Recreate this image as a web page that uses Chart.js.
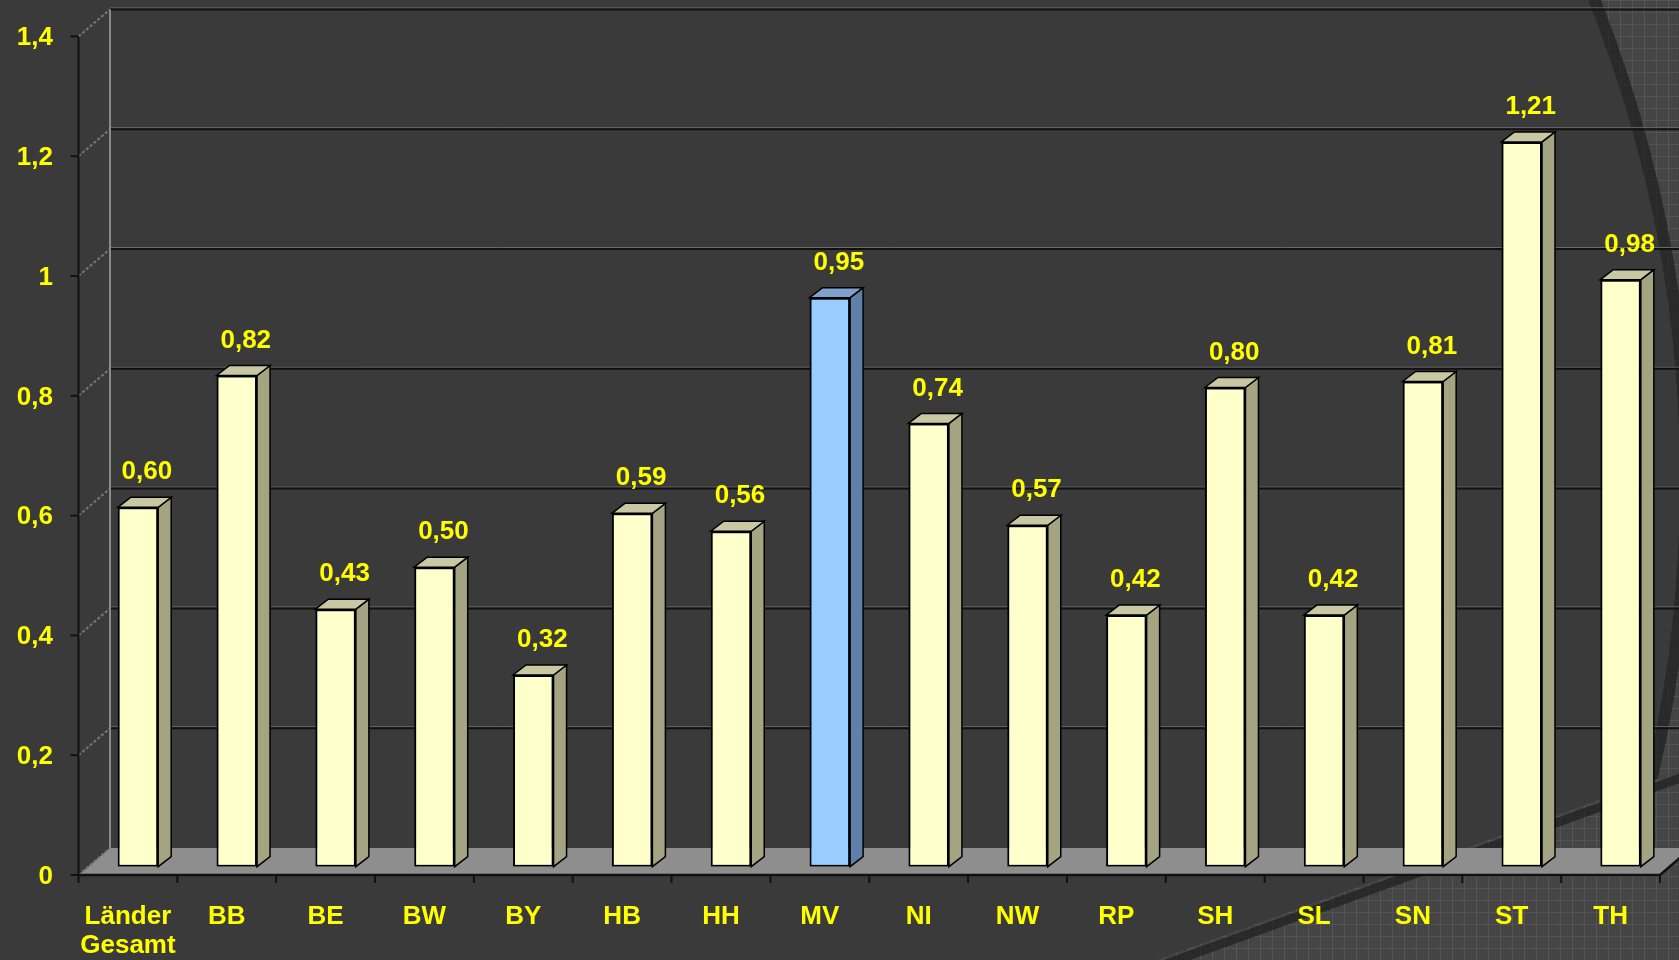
<!DOCTYPE html>
<html>
<head>
<meta charset="utf-8">
<title>Länder</title>
<script src="https://cdn.jsdelivr.net/npm/chart.js@4.4.0/dist/chart.umd.min.js"></script>
<style>
    html, body { margin: 0; padding: 0; background: #3a3a3a; }
    #chart { display: block; }
</style>
</head>
<body>
<canvas id="chart" width="1679" height="960"></canvas>
<script>
// Chart data
const laender = [['Länder', 'Gesamt'], 'BB', 'BE', 'BW', 'BY', 'HB', 'HH', 'MV', 'NI', 'NW', 'RP', 'SH', 'SL', 'SN', 'ST', 'TH'];
const werte = [0.60, 0.82, 0.43, 0.50, 0.32, 0.59, 0.56, 0.95, 0.74, 0.57, 0.42, 0.80, 0.42, 0.81, 1.21, 0.98];
const yTicks = [0, 0.2, 0.4, 0.6, 0.8, 1, 1.2, 1.4];
const highlight = 'MV';

const BG = '#3a3a3a';
const YELLOW = '#ffff00';
const FONT = '"Liberation Sans", Arial, sans-serif';

// 3D offsets relative to the plane the bar fronts sit in
const WALL = { dx: 21.5, dy: -18.7 };   // back wall
const FRONT = { dx: -10, dy: 8.3 };     // front edge of floor / axes
const DEPTH = { dx: 13, dy: -10 };      // bar depth

const isHighlight = i => laender[i] === highlight;
const colors = {
    front: i => isHighlight(i) ? '#99ccff' : '#ffffcc',
    side: i => isHighlight(i) ? '#5f80a8' : '#a4a482',
    top: i => isHighlight(i) ? '#7fa2cc' : '#c8c8a2'
};

const fmt = v => (Math.round(v * 10) / 10).toString().replace('.', ',');

// Fine grid texture for the decorative background shapes
function makeTexture(ctx) {
    const c = document.createElement('canvas');
    c.width = 12; c.height = 12;
    const g = c.getContext('2d');
    g.fillStyle = '#474747';
    g.fillRect(0, 0, 12, 12);
    g.fillStyle = '#3d3d3d';
    for (let i = 0; i < 12; i += 2) {
        for (let j = (i / 2) % 2; j < 12; j += 2) g.fillRect(i, j, 1, 1);
    }
    g.fillStyle = '#535353';
    g.fillRect(0, 0, 12, 1);
    g.fillRect(0, 0, 1, 12);
    return ctx.createPattern(c, 'repeat');
}

const backdrop = {
    id: 'backdrop',
    beforeDraw(chart) {
        const { ctx, width, height } = chart;
        const tex = makeTexture(ctx);
        ctx.save();
        ctx.fillStyle = BG;
        ctx.fillRect(0, 0, width, height);

        // big circle on the right, textured outside
        ctx.beginPath();
        ctx.rect(0, 0, width, height);
        ctx.arc(382, 480, 1298, 0, Math.PI * 2);
        ctx.fillStyle = tex;
        ctx.fill('evenodd');
        ctx.beginPath();
        ctx.arc(382, 480, 1304, -Math.PI / 2, Math.PI / 2);
        ctx.lineWidth = 12;
        ctx.strokeStyle = 'rgba(32,32,32,0.75)';
        ctx.stroke();

        // sloped band at the bottom right
        ctx.beginPath();
        ctx.moveTo(1156, 960);
        ctx.lineTo(1679, 771);
        ctx.lineTo(1679, 960);
        ctx.closePath();
        ctx.fillStyle = tex;
        ctx.fill();
        ctx.beginPath();
        ctx.moveTo(1160, 966);
        ctx.lineTo(1683, 777);
        ctx.lineWidth = 9;
        ctx.strokeStyle = 'rgba(32,32,32,0.75)';
        ctx.stroke();
        ctx.restore();
    }
};

const walls = {
    id: 'walls',
    beforeDatasetsDraw(chart) {
        const { ctx, chartArea, scales: { x, y }, width } = chart;
        const left = chartArea.left, right = chartArea.right;
        const y0 = y.getPixelForValue(0);
        const yTop = y.getPixelForValue(yTicks[yTicks.length - 1]);
        ctx.save();

        // floor
        ctx.beginPath();
        ctx.moveTo(left + FRONT.dx, y0 + FRONT.dy);
        ctx.lineTo(right + FRONT.dx, y0 + FRONT.dy);
        ctx.lineTo(right + WALL.dx, y0 + WALL.dy);
        ctx.lineTo(left + WALL.dx, y0 + WALL.dy);
        ctx.closePath();
        ctx.fillStyle = '#8e8e8e';
        ctx.fill();

        // gridlines on the back wall and the side wall
        yTicks.forEach(v => {
            const py = y.getPixelForValue(v);
            if (v > 0) {
                ctx.lineWidth = 1;
                ctx.strokeStyle = '#6a6a6a';
                ctx.beginPath();
                ctx.moveTo(left + WALL.dx, py + WALL.dy - 1.5);
                ctx.lineTo(width, py + WALL.dy - 1.5);
                ctx.stroke();
                ctx.lineWidth = 2;
                ctx.strokeStyle = '#111';
                ctx.beginPath();
                ctx.moveTo(left + WALL.dx, py + WALL.dy);
                ctx.lineTo(width, py + WALL.dy);
                ctx.stroke();
            }
            ctx.lineWidth = 2;
            ctx.strokeStyle = '#777';
            ctx.setLineDash([3, 2]);
            ctx.beginPath();
            ctx.moveTo(left + FRONT.dx, py + FRONT.dy);
            ctx.lineTo(left + WALL.dx, py + WALL.dy);
            ctx.stroke();
            ctx.setLineDash([]);
            ctx.strokeStyle = '#111';
            ctx.beginPath();
            ctx.moveTo(left + FRONT.dx - 8, py + FRONT.dy);
            ctx.lineTo(left + FRONT.dx, py + FRONT.dy);
            ctx.stroke();
        });

        // back wall left edge
        ctx.strokeStyle = '#8a8a8a';
        ctx.lineWidth = 2;
        ctx.beginPath();
        ctx.moveTo(left + WALL.dx, yTop + WALL.dy);
        ctx.lineTo(left + WALL.dx, y0 + WALL.dy);
        ctx.stroke();

        // front value axis
        ctx.strokeStyle = '#111';
        ctx.beginPath();
        ctx.moveTo(left + FRONT.dx, yTop + FRONT.dy);
        ctx.lineTo(left + FRONT.dx, y0 + FRONT.dy);
        ctx.stroke();

        // front category axis with ticks between categories
        ctx.lineWidth = 2.5;
        ctx.beginPath();
        ctx.moveTo(left + FRONT.dx, y0 + FRONT.dy);
        ctx.lineTo(right + FRONT.dx, y0 + FRONT.dy);
        ctx.lineTo(right + WALL.dx, y0 + WALL.dy);
        ctx.stroke();
        const step = x.getPixelForValue(1) - x.getPixelForValue(0);
        ctx.lineWidth = 2;
        for (let i = 0; i <= laender.length; i++) {
            const px = x.getPixelForValue(0) - step / 2 + i * step + FRONT.dx;
            ctx.beginPath();
            ctx.moveTo(px, y0 + FRONT.dy);
            ctx.lineTo(px, y0 + FRONT.dy + 8);
            ctx.stroke();
        }

        // side and top faces of the bars
        const meta = chart.getDatasetMeta(0);
        ctx.lineWidth = 1.5;
        ctx.strokeStyle = '#000';
        meta.data.forEach((bar, i) => {
            const p = bar.getProps(['x', 'y', 'base', 'width'], true);
            const l = p.x - p.width / 2, r = p.x + p.width / 2;
            ctx.beginPath();
            ctx.moveTo(r, p.y);
            ctx.lineTo(r + DEPTH.dx, p.y + DEPTH.dy);
            ctx.lineTo(r + DEPTH.dx, p.base + DEPTH.dy);
            ctx.lineTo(r, p.base);
            ctx.closePath();
            ctx.fillStyle = colors.side(i);
            ctx.fill();
            ctx.stroke();
            ctx.beginPath();
            ctx.moveTo(l, p.y);
            ctx.lineTo(l + DEPTH.dx, p.y + DEPTH.dy);
            ctx.lineTo(r + DEPTH.dx, p.y + DEPTH.dy);
            ctx.lineTo(r, p.y);
            ctx.closePath();
            ctx.fillStyle = colors.top(i);
            ctx.fill();
            ctx.stroke();
        });
        ctx.restore();
    }
};

// Value labels above the bars
const valueLabels = {
    id: 'valueLabels',
    afterDatasetsDraw(chart) {
        const { ctx } = chart;
        const meta = chart.getDatasetMeta(0);
        ctx.save();
        ctx.font = 'bold 26px ' + FONT;
        ctx.fillStyle = YELLOW;
        ctx.textAlign = 'center';
        ctx.textBaseline = 'middle';
        meta.data.forEach((bar, i) => {
            const p = bar.getProps(['x', 'y'], true);
            ctx.fillText(werte[i].toFixed(2).replace('.', ','), p.x + 9, p.y - 35);
        });
        ctx.restore();
    }
};

const ctx = document.getElementById('chart').getContext('2d');
const chart = new Chart(ctx, {
    type: 'bar',
    data: {
        labels: laender,
        datasets: [{
            data: werte,
            backgroundColor: werte.map((v, i) => colors.front(i)),
            borderColor: '#000',
            borderWidth: 2,
            borderSkipped: false,
            categoryPercentage: 1,
            barPercentage: 0.41
        }]
    },
    options: {
        responsive: false,
        animation: false,
        devicePixelRatio: 1,
        layout: { padding: { top: 28.1, right: 9, left: 0, bottom: 0 } },
        plugins: {
            legend: { display: false },
            tooltip: { enabled: false }
        },
        scales: {
            x: {
                grid: { display: false, drawTicks: false },
                border: { display: false },
                ticks: {
                    color: YELLOW,
                    font: { family: FONT, size: 26, weight: 'bold', lineHeight: 1.12 },
                    padding: 35.3,
                    labelOffset: -10,
                    autoSkip: false,
                    maxRotation: 0
                },
                afterFit: scale => {
                    scale.height = 93.3;
                    scale.paddingLeft = 0;
                    scale.paddingRight = 0;
                }
            },
            y: {
                min: 0,
                max: 1.4,
                grid: { display: false, drawTicks: false },
                border: { display: false },
                afterBuildTicks: scale => { scale.ticks = yTicks.map(v => ({ value: v })); },
                ticks: {
                    color: YELLOW,
                    font: { family: FONT, size: 26, weight: 'bold' },
                    padding: 35.5,
                    labelOffset: 10,
                    callback: v => fmt(v)
                },
                afterFit: scale => {
                    scale.width = 88.5;
                    scale.paddingTop = 0;
                    scale.paddingBottom = 0;
                }
            }
        }
    },
    plugins: [backdrop, walls, valueLabels]
});
</script>
</body>
</html>
